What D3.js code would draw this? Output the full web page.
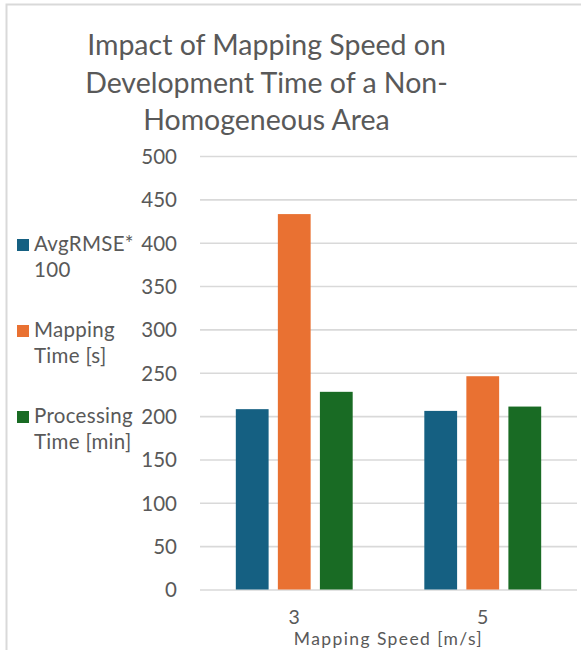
<!DOCTYPE html>
<html><head><meta charset="utf-8">
<script src="https://cdn.jsdelivr.net/npm/d3@7"></script>
<style>html,body{margin:0;padding:0;background:#fff;overflow:hidden}</style>
</head><body>
<svg id="c" width="581" height="650"></svg>
<script>
const categories = ["3", "5"];
const seriesNames = ["AvgRMSE*100", "Mapping Time [s]", "Processing Time [min]"];
const legendLines = [["AvgRMSE*", "100"], ["Mapping", "Time [s]"], ["Processing", "Time [min]"]];
const avgRmse = [208, 206];
const mappingTime = [433, 246];
const processingTime = [228, 211];
const yTicks = [0, 50, 100, 150, 200, 250, 300, 350, 400, 450, 500];
const titleLines = ["Impact of Mapping Speed on", "Development Time of a Non-", "Homogeneous Area"];
const xTitle = "Mapping Speed [m/s]";
const colors = ["#156082", "#E97132", "#196B24"];

const seriesValues = [avgRmse, mappingTime, processingTime];
const svg = d3.select("#c");
const font = "Lato, 'Noto Sans', sans-serif";
const textCol = "#595959";

// border
svg.append("path").attr("d", "M6.5,650 V4.5 H581").attr("fill", "none").attr("stroke", "#d9d9d9").attr("stroke-width", 2);

const y = d3.scaleLinear().domain([0, 500]).range([589.5, 156]);
const x0 = d3.scaleBand().domain(categories).range([200, 577]);
const bw = x0.bandwidth();
const x1 = d3.scaleBand().domain(seriesNames).range([0.19 * bw, 0.81 * bw]).paddingInner(0.22);

// gridlines
const yAxis = d3.axisLeft(y).tickValues(yTicks).tickSize(-(577 - 200)).tickPadding(23);
const gy = svg.append("g").attr("transform", "translate(200,0)").call(yAxis);
gy.select(".domain").remove();
gy.selectAll(".tick line").attr("stroke", "#d9d9d9").attr("stroke-width", 1.6);
gy.selectAll(".tick text").attr("fill", textCol).attr("font-family", font).attr("font-size", 20.5).attr("dy", "0.36em");

// bars
const groups = svg.append("g").selectAll("g").data(categories).join("g")
  .attr("transform", d => `translate(${x0(d)},0)`);
groups.selectAll("rect").data((c, ci) => seriesNames.map((s, si) => ({s, si, v: seriesValues[si][ci]})))
  .join("rect")
  .attr("x", d => x1(d.s)).attr("width", x1.bandwidth())
  .attr("y", d => y(d.v)).attr("height", d => y(0) - y(d.v))
  .attr("fill", d => colors[d.si]);

// x labels
const xAxis = d3.axisBottom(x0).tickSize(0).tickPadding(0);
const gx = svg.append("g").attr("transform", "translate(0,589.5)").call(xAxis);
gx.select(".domain").remove();
gx.selectAll(".tick text").attr("fill", textCol).attr("font-family", font).attr("font-size", 19.5).attr("y", 34).attr("dy", 0);

svg.append("text").attr("x", 388.5).attr("y", 645).attr("text-anchor", "middle")
  .attr("fill", textCol).attr("font-family", font).attr("font-size", 17.5).attr("letter-spacing", 1.4).text(xTitle);

// title
const t = svg.append("text").attr("text-anchor", "middle").attr("fill", textCol).attr("font-family", font).attr("font-size", 28.5);
titleLines.forEach((l, i) => t.append("tspan").attr("x", 266.5).attr("y", 55 + i * 37.5).text(l));

// legend
const lg = svg.append("g").selectAll("g").data(legendLines).join("g")
  .attr("transform", (d, i) => `translate(0,${251 + i * 86})`);
lg.append("rect").attr("x", 17).attr("y", -12).attr("width", 12).attr("height", 12).attr("fill", (d, i) => colors[i]);
lg.each(function(d) {
  const tx = d3.select(this).append("text").attr("fill", textCol).attr("font-family", font).attr("font-size", 20.5).attr("letter-spacing", 0.3);
  d.forEach((l, j) => tx.append("tspan").attr("x", 34).attr("y", j * 25.5).text(l));
});
</script>
</body></html>
